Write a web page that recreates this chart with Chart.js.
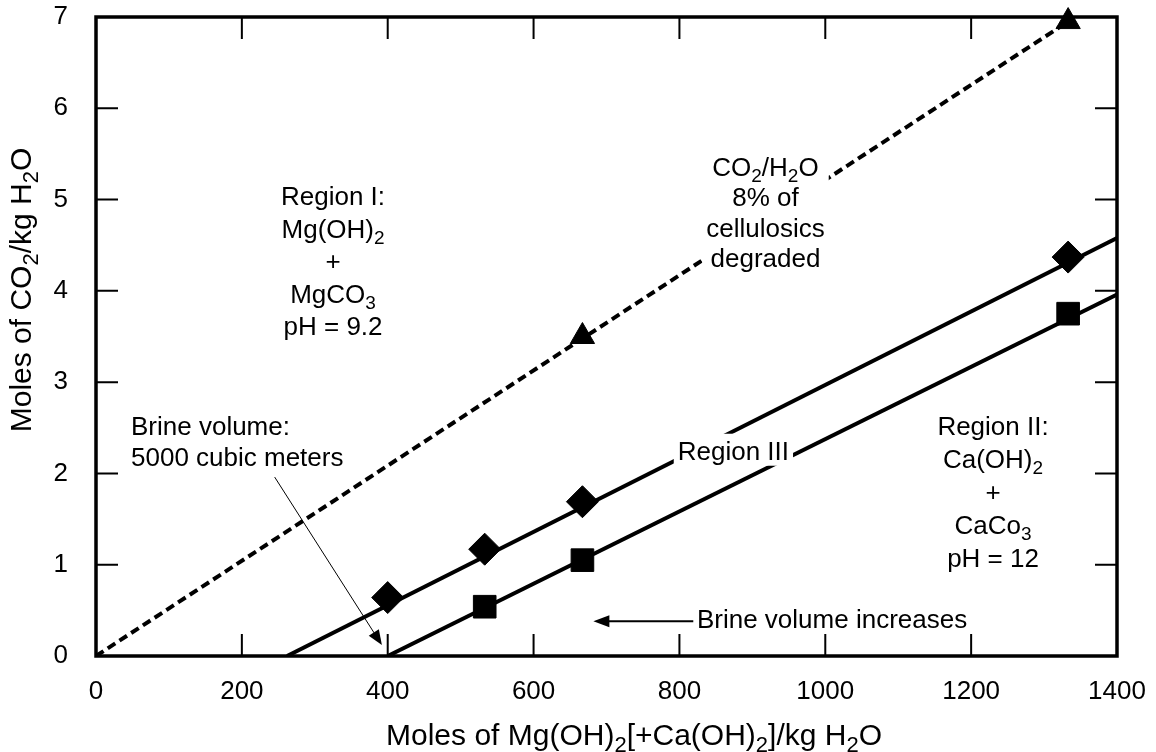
<!DOCTYPE html>
<html>
<head>
<meta charset="utf-8">
<script src="https://cdn.jsdelivr.net/npm/chart.js@4.4.0/dist/chart.umd.min.js"></script>
<style>
  html, body { margin: 0; padding: 0; background: #fff; }
  #wrap { width: 1156px; height: 752px; position: relative; }
</style>
</head>
<body>
<div id="wrap"><canvas id="chart"></canvas></div>
<script>
// axis ticks
const xTicks = [0, 200, 400, 600, 800, 1000, 1200, 1400];
const yTicks = [0, 1, 2, 3, 4, 5, 6, 7];

// measured points
const diamondX = [400, 533, 667, 1333];
const diamondY = [0.64, 1.17, 1.69, 4.37];
const squareX = [533, 667, 1333];
const squareY = [0.54, 1.05, 3.75];
const triangleX = [667, 1333];
const triangleY = [3.5, 6.95];

// straight lines (end points)
const co2LineX = [0, 1333];
const co2LineY = [0, 6.95];
const upperLineX = [262, 1400];
const upperLineY = [0, 4.58];
const lowerLineX = [400, 1400];
const lowerLineY = [0, 3.96];

const xTitle = 'Moles of Mg(OH)_2[+Ca(OH)_2]/kg H_2O';
const yTitle = 'Moles of CO_2/kg H_2O';

// text notes, anchored in data units
const notes = [
  { lines: ['Region I:', 'Mg(OH)_2', '+', 'MgCO_3', 'pH = 9.2'], x: 325, y: 4.94, align: 'center', lh: 32.5 },
  { lines: ['CO_2/H_2O', '8% of', 'cellulosics', 'degraded'], x: 918, y: 5.26, align: 'center', lh: 30.5, bg: true },
  { lines: ['Region II:', 'Ca(OH)_2', '+', 'CaCo_3', 'pH = 12'], x: 1230, y: 2.42, align: 'center', lh: 33 },
  { lines: ['Brine volume:', '5000 cubic meters'], x: 48, y: 2.42, align: 'left', lh: 31 },
  { lines: ['Region III'], x: 874, y: 2.15, align: 'center', lh: 30, bg: true },
  { lines: ['Brine volume increases'], x: 824, y: 0.31, align: 'left', lh: 30 }
];
const arrows = [
  { from: [245, 1.96], to: [392, 0.12], lw: 1, len: 15, half: 6 },
  { from: [819, 0.38], to: [682, 0.38], lw: 2, len: 16, half: 6 }
];

const FONT = '"Liberation Sans", Arial, Helvetica, sans-serif';

function pts(xs, ys) {
  return xs.map((x, i) => ({ x: x, y: ys[i] }));
}

// "_2" -> subscript 2
function parseRich(str) {
  const parts = [];
  let buf = '';
  for (let i = 0; i < str.length; i++) {
    if (str[i] === '_' && i + 1 < str.length) {
      if (buf) parts.push({ t: buf, sub: false });
      buf = '';
      parts.push({ t: str[i + 1], sub: true });
      i++;
    } else {
      buf += str[i];
    }
  }
  if (buf) parts.push({ t: buf, sub: false });
  return parts;
}

function setFont(ctx, p, size) {
  ctx.font = (p.sub ? Math.round(size * 0.73) : size) + 'px ' + FONT;
}

function richWidth(ctx, str, size) {
  let w = 0;
  parseRich(str).forEach(p => {
    setFont(ctx, p, size);
    w += ctx.measureText(p.t).width;
  });
  return w;
}

function drawRich(ctx, str, x, y, align, size) {
  const w = richWidth(ctx, str, size);
  let cx = align === 'center' ? x - w / 2 : (align === 'right' ? x - w : x);
  ctx.textAlign = 'left';
  ctx.textBaseline = 'alphabetic';
  parseRich(str).forEach(p => {
    setFont(ctx, p, size);
    ctx.fillText(p.t, cx, y + (p.sub ? size * 0.23 : 0));
    cx += ctx.measureText(p.t).width;
  });
}

function drawArrow(ctx, x1, y1, x2, y2, lw, len, half) {
  const ang = Math.atan2(y2 - y1, x2 - x1);
  const c = Math.cos(ang), s = Math.sin(ang);
  ctx.lineWidth = lw;
  ctx.beginPath();
  ctx.moveTo(x1, y1);
  ctx.lineTo(x2 - c * len * 0.8, y2 - s * len * 0.8);
  ctx.stroke();
  ctx.beginPath();
  ctx.moveTo(x2, y2);
  ctx.lineTo(x2 - c * len + s * half, y2 - s * len - c * half);
  ctx.lineTo(x2 - c * len - s * half, y2 - s * len + c * half);
  ctx.closePath();
  ctx.fill();
}

const overlay = {
  id: 'overlay',
  afterDatasetsDraw(chart) {
    const ctx = chart.ctx, xs = chart.scales.x, ys = chart.scales.y, a = chart.chartArea;
    ctx.save();
    ctx.strokeStyle = '#000';
    ctx.fillStyle = '#000';

    // frame
    ctx.lineWidth = 3.5;
    ctx.strokeRect(a.left, a.top, a.right - a.left, a.bottom - a.top);

    // inward ticks on all four sides
    ctx.lineWidth = 2;
    ctx.beginPath();
    xTicks.slice(1, -1).forEach(v => {
      const px = xs.getPixelForValue(v);
      ctx.moveTo(px, a.bottom); ctx.lineTo(px, a.bottom - 22);
      ctx.moveTo(px, a.top); ctx.lineTo(px, a.top + 22);
    });
    yTicks.slice(1, -1).forEach(v => {
      const py = ys.getPixelForValue(v);
      ctx.moveTo(a.left, py); ctx.lineTo(a.left + 22, py);
      ctx.moveTo(a.right, py); ctx.lineTo(a.right - 22, py);
    });
    ctx.stroke();

    // notes
    notes.forEach(n => {
      const px = xs.getPixelForValue(n.x), py = ys.getPixelForValue(n.y);
      if (n.bg) {
        const w = Math.max.apply(null, n.lines.map(l => richWidth(ctx, l, 26)));
        const left = n.align === 'center' ? px - w / 2 : px;
        ctx.fillStyle = '#fff';
        ctx.fillRect(left - 4, py - 26, w + 8, (n.lines.length - 1) * n.lh + 32);
      }
      ctx.fillStyle = '#000';
      n.lines.forEach((l, i) => drawRich(ctx, l, px, py + i * n.lh, n.align, 26));
    });

    // arrows
    arrows.forEach(r => {
      drawArrow(ctx,
        xs.getPixelForValue(r.from[0]), ys.getPixelForValue(r.from[1]),
        xs.getPixelForValue(r.to[0]), ys.getPixelForValue(r.to[1]),
        r.lw, r.len, r.half);
    });

    // axis titles
    drawRich(ctx, xTitle, 634, 745, 'center', 30);
    ctx.translate(31, 290);
    ctx.rotate(-Math.PI / 2);
    drawRich(ctx, yTitle, 0, 0, 'center', 30);
    ctx.restore();
  }
};

const tickFont = { family: FONT, size: 26 };

function noPad(s) {
  s.paddingTop = 0; s.paddingBottom = 0; s.paddingLeft = 0; s.paddingRight = 0;
}

new Chart(document.getElementById('chart'), {
  type: 'scatter',
  data: {
    datasets: [
      { data: pts(diamondX, diamondY), pointStyle: 'rectRot', pointRadius: 16, backgroundColor: '#000', borderColor: '#000', borderWidth: 1, clip: false },
      { data: pts(squareX, squareY), pointStyle: 'rect', pointRadius: 16, backgroundColor: '#000', borderColor: '#000', borderWidth: 1, clip: false },
      { data: pts(triangleX, triangleY), pointStyle: 'triangle', pointRadius: 14, backgroundColor: '#000', borderColor: '#000', borderWidth: 1, clip: false },
      { data: pts(co2LineX, co2LineY), showLine: true, pointRadius: 0, borderColor: '#000', borderWidth: 4, borderDash: [9, 5] },
      { data: pts(upperLineX, upperLineY), showLine: true, pointRadius: 0, borderColor: '#000', borderWidth: 4 },
      { data: pts(lowerLineX, lowerLineY), showLine: true, pointRadius: 0, borderColor: '#000', borderWidth: 4 }
    ]
  },
  options: {
    responsive: true,
    maintainAspectRatio: false,
    animation: false,
    layout: { padding: { top: 17, right: 39, left: 0, bottom: 0 } },
    plugins: { legend: { display: false }, tooltip: { enabled: false } },
    scales: {
      x: {
        type: 'linear', min: 0, max: 1400,
        afterBuildTicks: s => { s.ticks = xTicks.map(v => ({ value: v })); },
        afterFit: s => { s.height = 96; noPad(s); },
        ticks: { font: tickFont, color: '#000', padding: 20, maxRotation: 0, callback: v => String(v) },
        grid: { display: false, drawTicks: false },
        border: { display: false }
      },
      y: {
        type: 'linear', min: 0, max: 7,
        afterBuildTicks: s => { s.ticks = yTicks.map(v => ({ value: v })); },
        afterFit: s => { s.width = 96; noPad(s); },
        ticks: { font: tickFont, color: '#000', padding: 28, callback: v => String(v) },
        grid: { display: false, drawTicks: false },
        border: { display: false }
      }
    }
  },
  plugins: [overlay]
});
</script>
</body>
</html>
